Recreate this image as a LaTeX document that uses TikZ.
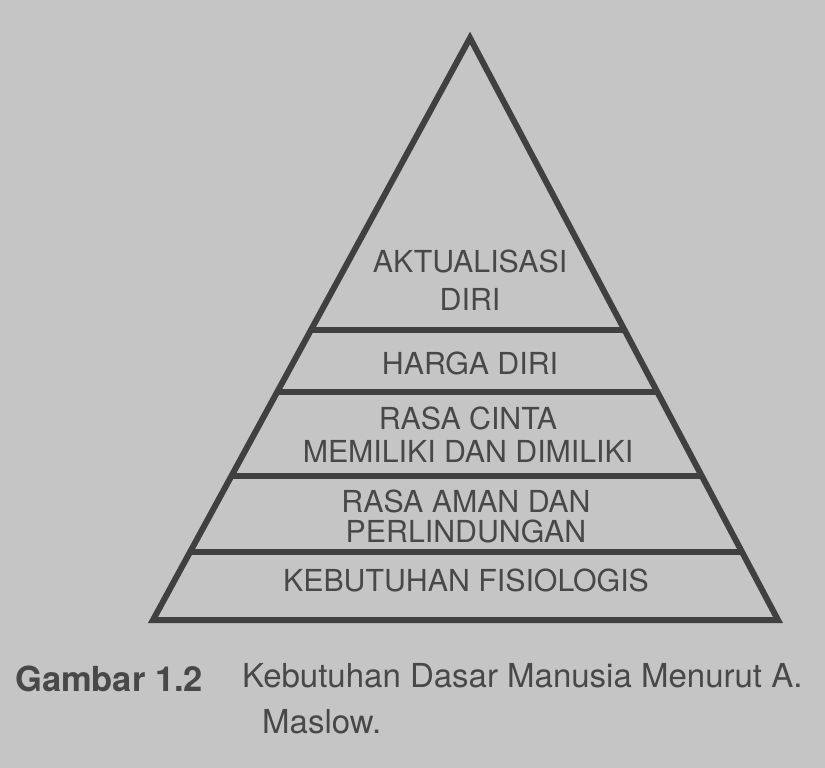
\documentclass[tikz,border=0pt]{standalone}
\usepackage{fontspec}
\setmainfont{TeX Gyre Heros}
\usepackage{tikz}
\usetikzlibrary{calc}
\definecolor{paper}{RGB}{197,197,197}
\definecolor{ink}{RGB}{64,64,64}
\definecolor{print}{RGB}{72,72,72}

\begin{document}
\begin{tikzpicture}[x=1pt,y=-1pt]
      \tikzstyle level=[line width=6pt, color=ink]
      \tikzstyle label=[inner sep=0pt, anchor=base, text=print,
      font=\fontsize{30.3}{30}\selectfont]
      \tikzstyle caption=[inner sep=0pt, anchor=base west, text=print,
      font=\fontsize{33}{33}\selectfont]
      \fill [paper] (0,0) rectangle (825,768);
      \useasboundingbox (0,0) rectangle (825,768);
      \coordinate (top) at (470,38);
      \coordinate (left) at (153,620);
      \coordinate (right) at (778,620);
      \draw [level, line join=miter] (top) -- (left) -- (right) -- cycle;
      \draw [level] ($(top)!0.5017!(left)$) -- ($(top)!0.5017!(right)$);
      \draw [level] ($(top)!0.6082!(left)$) -- ($(top)!0.6082!(right)$);
      \draw [level] ($(top)!0.7526!(left)$) -- ($(top)!0.7526!(right)$);
      \draw [level] ($(top)!0.8832!(left)$) -- ($(top)!0.8832!(right)$);
      \node [label] (aktual) at (470,272) {AKTUALISASI};
      \node [label] (diri) at (470,310) {DIRI};
      \node [label] (harga) at (470,374) {HARGA DIRI};
      \node [label] (cinta) at (468,429) {RASA CINTA};
      \node [label] (milik) at (468,462) {MEMILIKI DAN DIMILIKI};
      \node [label] (aman) at (466,512) {RASA AMAN DAN};
      \node [label] (lindung) at (466,542) {PERLINDUNGAN};
      \node [label] (fisio) at (466,591) {KEBUTUHAN FISIOLOGIS};
      \node [caption, font=\fontsize{34.5}{34}\selectfont\bfseries] (gambar) at (15,691) {Gambar 1.2};
      \node [caption] (judul) at (242,687) {Kebutuhan Dasar Manusia Menurut A.};
      \node [caption] (maslow) at (262,733) {Maslow.};
\end{tikzpicture}
\end{document}
